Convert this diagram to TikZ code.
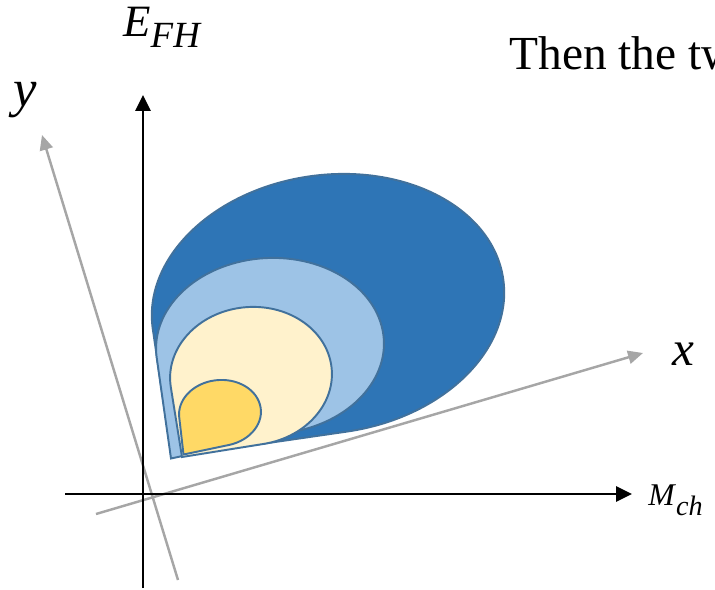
\documentclass[tikz,border=0pt]{standalone}
\usepackage{amsmath,amssymb}
\usepackage{fontspec}
\setmainfont{Liberation Serif}
\usepackage{tikz}
\usepackage{xcolor}
\usetikzlibrary{arrows.meta}

\definecolor{deepblue}{HTML}{2E75B6}
\definecolor{paleblue}{HTML}{9DC3E6}
\definecolor{cream}{HTML}{FFF2CC}
\definecolor{gold}{HTML}{FFD966}
\definecolor{rim}{HTML}{41719C}
\definecolor{axgray}{HTML}{A6A6A6}

\tikzset{
  mainax/.style={line width=1.5pt,-{Triangle[length=9pt,width=8.5pt]}},
  tiltax/.style={axgray,line width=1.4pt,-{Triangle[length=8.5pt,width=7.5pt]}},
  lab/.style={inner sep=0pt,anchor=base west}
}
% blob: centre x, centre y, x radius, y radius, tilt, tip x, tip y, fill
\newcommand{\blob}[8]{%
  \pgfmathsetmacro{\bdx}{#6-#1}\pgfmathsetmacro{\bdy}{#7-#2}%
  \pgfmathsetmacro{\blx}{(\bdx*cos(#5)+\bdy*sin(#5))/#3}%
  \pgfmathsetmacro{\bly}{(-\bdx*sin(#5)+\bdy*cos(#5))/#4}%
  \pgfmathsetmacro{\bbase}{atan2(\bly,\blx)}%
  \pgfmathsetmacro{\bspread}{acos(1/sqrt(\blx*\blx+\bly*\bly))}%
  \pgfmathsetmacro{\btA}{\bbase+\bspread}\pgfmathsetmacro{\btB}{\bbase-\bspread+360}%
  \begin{scope}[shift={(#1,#2)},rotate=#5]
    \filldraw[fill=#8,draw=rim,line width=1.1pt] ({\blx*#3},{\bly*#4}) -- ({#3*cos(\btA)},{#4*sin(\btA)})
      arc[start angle=\btA,end angle=\btB,x radius=#3,y radius=#4] -- cycle;
  \end{scope}}

\begin{document}
\begin{tikzpicture}[x=0.02cm,y=0.02cm]
  \useasboundingbox (0,0) rectangle (715,589);
  \coordinate (eLow) at (143,1); \coordinate (eTip) at (143,494); \coordinate (mLow) at (65,95); \coordinate (mTip) at (632,95);
  \coordinate (yLow) at (178,9); \coordinate (yTip) at (42,454); \coordinate (xLow) at (96,75); \coordinate (xTip) at (643,236);
  \draw[tiltax] (yLow) -- (yTip); \draw[tiltax] (xLow) -- (xTip);
  \draw[mainax] (eLow) -- (eTip); \draw[mainax] (mLow) -- (mTip);
  \blob{328}{285}{177}{129}{8}{171.5}{132}{deepblue}
  \blob{270}{243}{114}{88}{3}{171}{130.5}{paleblue}
  \blob{251}{213}{81}{69}{5}{182}{132}{cream}
  \blob{220}{176}{41}{33}{5}{183.5}{134.5}{gold}
  \node[lab,font=\fontsize{25.5}{30}\selectfont] (efh) at (123,552) {\textit{E}\raisebox{-6.2pt}{\fontsize{21}{24}\selectfont\textit{FH}}};
  \node[lab,font=\fontsize{18}{22}\selectfont] (mch) at (648,84) {\textit{M}\raisebox{-5.7pt}{\fontsize{16}{19}\selectfont\textit{ch}}};
  \node[lab,font=\fontsize{30}{34}\selectfont] (ylab) at (13,482) {\textit{y}};
  \node[lab,font=\fontsize{28}{32}\selectfont] (xlab) at (672,224) {\textit{x}};
  \node[lab,font=\fontsize{27}{32}\selectfont] (note) at (509,519) {Then the tw};
\end{tikzpicture}
\end{document}
